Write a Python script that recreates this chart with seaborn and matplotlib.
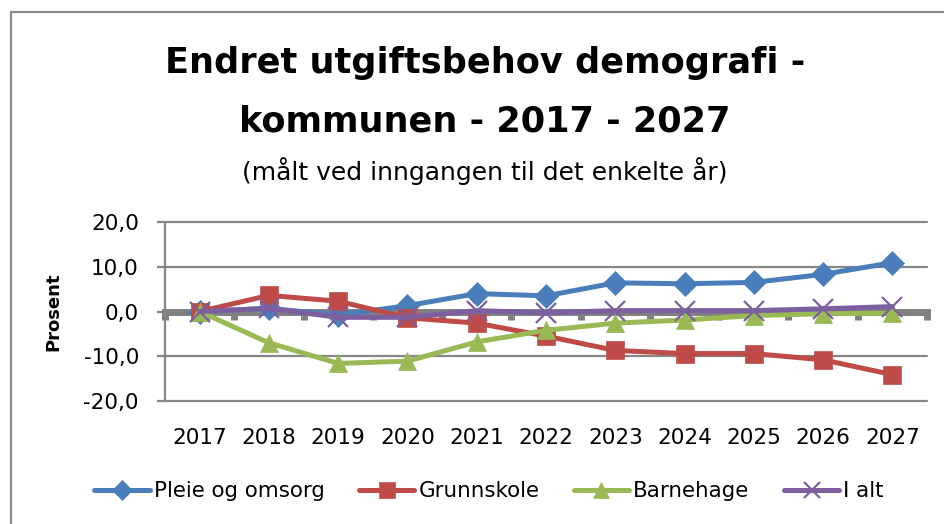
import matplotlib
matplotlib.use("Agg")
import matplotlib.pyplot as plt
from matplotlib.patches import Rectangle
import seaborn as sns
import pandas as pd

years = [2017, 2018, 2019, 2020, 2021, 2022, 2023, 2024, 2025, 2026, 2027]
pleie = [0.0, 0.7, -0.8, 1.3, 4.0, 3.5, 6.4, 6.2, 6.5, 8.3, 10.9]
grunnskole = [0.0, 3.6, 2.3, -1.4, -2.6, -5.5, -8.7, -9.4, -9.4, -10.8, -14.1]
barnehage = [0.0, -7.0, -11.6, -11.1, -6.8, -4.2, -2.6, -1.9, -0.9, -0.5, -0.4]
i_alt = [0.0, 0.7, -1.3, -1.3, 0.2, -0.3, 0.2, 0.2, 0.2, 0.6, 1.1]

series_names = ["Pleie og omsorg", "Grunnskole", "Barnehage", "I alt"]
series_values = [pleie, grunnskole, barnehage, i_alt]
y_ticks = [-20, -10, 0, 10, 20]

colors = ["#4A7EBB", "#BE4B48", "#98B954", "#7D5FA0"]
markers = ["D", "s", "^", "x"]
msizes = [12.0, 13.5, 13.5, 14.0]

df = pd.DataFrame({
    "year": years * len(series_names),
    "value": [v for vals in series_values for v in vals],
    "series": [n for n in series_names for _ in years],
})

sns.set_theme(style="white")
plt.rcParams["font.family"] = ["DejaVu Sans"]
plt.rcParams["text.color"] = "black"
plt.rcParams["axes.labelcolor"] = "black"
plt.rcParams["xtick.color"] = "black"
plt.rcParams["ytick.color"] = "black"

fig = plt.figure(figsize=(9.44, 5.24), dpi=100)
ax = fig.add_axes([165 / 944, 1 - 401 / 524, (927 - 165) / 944, (401 - 222) / 524])

gray = "#868686"
for yt in y_ticks:
    if yt != 0:
        ax.axhline(yt, color=gray, lw=1.6, zorder=1, clip_on=False)

for name, col, mk, ms in zip(series_names, colors, markers, msizes):
    sub = df[df["series"] == name]
    sns.lineplot(data=sub, x="year", y="value", ax=ax, color=col, lw=3.6,
                 marker=mk, markersize=ms, markeredgecolor=col,
                 markeredgewidth=(1.6 if mk == "x" else 0.5),
                 label=name, zorder=3)

ax.set_xlim(years[0] - 0.5, years[-1] + 0.5)
ax.set_ylim(y_ticks[0], y_ticks[-1])

for s in ["top", "right"]:
    ax.spines[s].set_visible(False)
ax.spines["left"].set_color(gray)
ax.spines["left"].set_linewidth(1.6)
ax.spines["bottom"].set_position(("data", 0))
ax.spines["bottom"].set_color("#808080")
ax.spines["bottom"].set_linewidth(5)
ax.spines["bottom"].set_zorder(2)

bounds = [y - 0.5 for y in years] + [years[-1] + 0.5]
ax.set_xticks(bounds)
ax.tick_params(axis="x", which="major", direction="out", length=6, width=5,
               color="#808080", bottom=True, labelbottom=False)

ax.set_yticks(y_ticks)
ax.set_yticklabels([f"{v:.1f}".replace(".", ",") for v in y_ticks])
ax.tick_params(axis="y", direction="out", length=5.8, width=1.6, color=gray,
               labelsize=15.5, pad=13, labelcolor="black", left=True)

sec = ax.secondary_xaxis(0)
sec.set_xticks(years)
sec.set_xticklabels([str(y) for y in years])
sec.tick_params(length=0, labelsize=15.5, pad=19.5, labelcolor="black")
sec.spines["bottom"].set_visible(False)

ax.set_xlabel("")
ax.set_ylabel("Prosent", fontsize=13, fontweight="bold", color="black")
ax.yaxis.set_label_coords((62 - 165) / (927 - 165), 0.5)

if ax.legend_:
    ax.legend_.remove()
handles, labels = ax.get_legend_handles_labels()
fig.legend(handles, labels, loc="center", bbox_to_anchor=(489 / 944, 1 - 491 / 524),
           ncol=4, frameon=False, fontsize=15.4, handlelength=2.6,
           handletextpad=0.19, columnspacing=1.6, markerscale=0.85)

fig.text(485 / 944, 1 - 63 / 524, "Endret utgiftsbehov demografi -",
         ha="center", va="center", fontsize=25.3, fontweight="bold")
fig.text(485 / 944, 1 - 122 / 524, "kommunen - 2017 - 2027",
         ha="center", va="center", fontsize=25.3, fontweight="bold")
fig.text(485 / 944, 1 - 171 / 524, "(målt ved inngangen til det enkelte år)",
         ha="center", va="center", fontsize=18)

fig.patches.append(Rectangle((11 / 944, -0.1), 1.2, 1 - 12 / 524 + 0.1,
                             transform=fig.transFigure, fill=False,
                             edgecolor="#8C8C8C", lw=1.6))

fig.savefig("out.png", dpi=100)
